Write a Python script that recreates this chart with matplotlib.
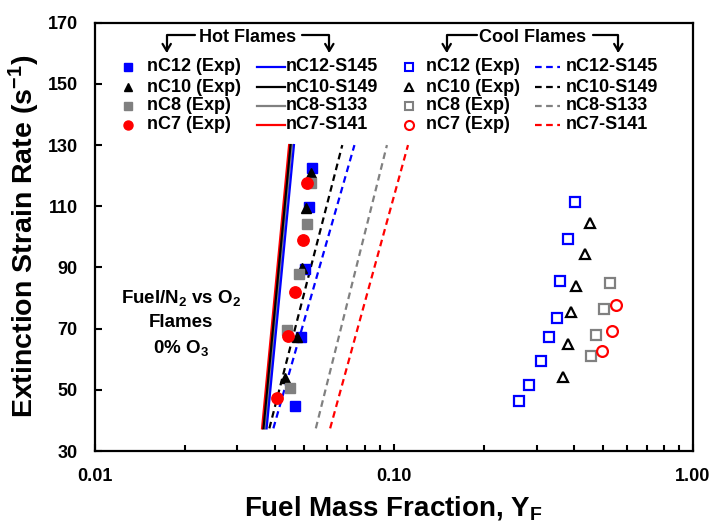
import matplotlib
matplotlib.use("Agg")
import matplotlib.pyplot as plt
from matplotlib.lines import Line2D
from matplotlib.ticker import FixedLocator, LogLocator, FixedFormatter, NullFormatter

plt.rcParams['font.family'] = ['Liberation Sans', 'DejaVu Sans']
plt.rcParams['font.weight'] = 'bold'
plt.rcParams['mathtext.fontset'] = 'custom'
plt.rcParams['mathtext.bf'] = 'Liberation Sans:bold'
plt.rcParams['mathtext.rm'] = 'Liberation Sans:bold'
plt.rcParams['mathtext.default'] = 'bf'

# ---------------- data ----------------
fuels = ["nC12", "nC10", "nC8", "nC7"]
mechanisms = ["S145", "S149", "S133", "S141"]
colors = ["#0000ff", "#000000", "#808080", "#ff0000"]
markers = ["s", "^", "s", "o"]

# hot-flame extinction measurements (fuel mass fraction, strain rate 1/s)
hot_nc12_y = [0.0535, 0.0520, 0.0504, 0.0488, 0.0468]
hot_nc12_a = [122.6, 109.6, 89.4, 67.4, 44.7]
hot_nc10_y = [0.0527, 0.0508, 0.0495, 0.0476, 0.0432]
hot_nc10_a = [121.0, 109.5, 89.9, 67.4, 53.8]
hot_nc8_y = [0.0531, 0.0512, 0.0481, 0.0440, 0.0449]
hot_nc8_a = [117.7, 104.3, 87.7, 69.5, 50.5]
hot_nc7_y = [0.0514, 0.0496, 0.0467, 0.0443, 0.0407]
hot_nc7_a = [117.7, 99.0, 81.9, 67.6, 47.2]

# cool-flame extinction measurements
cool_nc12_y = [0.402, 0.382, 0.360, 0.351, 0.330, 0.310, 0.284, 0.262]
cool_nc12_a = [111.4, 99.4, 85.7, 73.4, 67.3, 59.4, 51.6, 46.3]
cool_nc10_y = [0.454, 0.434, 0.408, 0.391, 0.383, 0.367]
cool_nc10_a = [104.4, 94.4, 83.9, 75.3, 65.0, 54.3]
cool_nc8_y = [0.526, 0.503, 0.473, 0.457]
cool_nc8_a = [84.8, 76.4, 67.9, 61.0]
cool_nc7_y = [0.555, 0.537, 0.498]
cool_nc7_a = [77.8, 69.3, 62.7]

# simulated extinction curves (end points)
sim_a = [37.4, 130.0]
hot_sim_nc12 = [0.0376, 0.0464]
hot_sim_nc10 = [0.0367, 0.0452]
hot_sim_nc8 = [0.0372, 0.0457]
hot_sim_nc7 = [0.0363, 0.0447]
cool_sim_nc12 = [0.0396, 0.0739]
cool_sim_nc10 = [0.0384, 0.0673]
cool_sim_nc8 = [0.0549, 0.0949]
cool_sim_nc7 = [0.0613, 0.1116]

x_ticks = [0.01, 0.1, 1.0]
x_tick_labels = ["0.01", "0.10", "1.00"]
y_ticks = [30, 50, 70, 90, 110, 130, 150, 170]

hot_exp = [(hot_nc12_y, hot_nc12_a), (hot_nc10_y, hot_nc10_a),
           (hot_nc8_y, hot_nc8_a), (hot_nc7_y, hot_nc7_a)]
cool_exp = [(cool_nc12_y, cool_nc12_a), (cool_nc10_y, cool_nc10_a),
            (cool_nc8_y, cool_nc8_a), (cool_nc7_y, cool_nc7_a)]
hot_sim = [hot_sim_nc12, hot_sim_nc10, hot_sim_nc8, hot_sim_nc7]
cool_sim = [cool_sim_nc12, cool_sim_nc10, cool_sim_nc8, cool_sim_nc7]

W, H = 713, 523
fig = plt.figure(figsize=(W / 100, H / 100), dpi=100)
ax = fig.add_axes([94.5 / W, 1 - 451 / H, (693 - 94.5) / W, (451 - 22.7) / H])

DASH = (0, (3, 2))

# simulated curves
for c, ys in zip(colors, cool_sim):
    ax.plot(ys, sim_a, color=c, lw=1.6, ls=DASH, zorder=2)
for i in [3, 2, 1, 0]:
    ax.plot(hot_sim[i], sim_a, color=colors[i], lw=1.6, zorder=2)

# measurements
for c, m, (ys, a) in zip(colors, markers, hot_exp):
    ms = 8.2 if m == "o" else 7.3
    ax.plot(ys, a, ls="none", marker=m, ms=ms, color=c, mec=c, zorder=3)
for c, m, (ys, a) in zip(colors, markers, cool_exp):
    ms = 7.8 if m == "o" else 7.4
    ax.plot(ys, a, ls="none", marker=m, ms=ms, mfc="white", mec=c, mew=1.6,
            zorder=3)

ax.set_xscale("log")
ax.set_xlim(0.01, 1.0)
ax.set_ylim(30, 170)
ax.xaxis.set_major_locator(FixedLocator(x_ticks))
ax.xaxis.set_major_formatter(FixedFormatter(x_tick_labels))
ax.xaxis.set_minor_locator(LogLocator(base=10, subs=range(2, 10)))
ax.xaxis.set_minor_formatter(NullFormatter())
ax.yaxis.set_major_locator(FixedLocator(y_ticks))
ax.tick_params(axis="both", which="major", direction="in", length=5, width=1.5,
               labelsize=13, pad=12, top=False, right=False)
ax.tick_params(axis="x", which="minor", direction="in", length=4, width=1.5,
               top=False)
for lbl in ax.get_xticklabels() + ax.get_yticklabels():
    lbl.set_fontweight("bold")
for s in ax.spines.values():
    s.set_linewidth(1.6)

ax.set_xlabel("Fuel Mass Fraction, Y$_F$", fontsize=20, fontweight="bold",
              labelpad=7)
ax.set_ylabel("Extinction Strain Rate (s$^{-1}$)", fontsize=20.5,
              fontweight="bold")
ax.yaxis.set_label_coords((42 - 94.5) / (693 - 94.5), 0.5)

ax.text((181 - 94.5) / (693 - 94.5), 1 - (323 - 22.7) / (451 - 22.7),
        "Fuel/N$_2$ vs O$_2$\nFlames\n0% O$_3$", transform=ax.transAxes,
        ha="center", va="center", fontsize=13.5, fontweight="bold",
        linespacing=1.5)


# key drawn in figure pixel units
def fx(px):
    return px / W


def fy(py):
    return 1 - py / H


rows = [66.7, 87.3, 105.5, 124.5]
FS = 13


def key_block(x_marker, x_label, x_line0, x_line1, x_label2, filled, ls):
    for i, (c, m, f, mech) in enumerate(zip(colors, markers, fuels, mechanisms)):
        y = rows[i]
        if filled:
            fig.add_artist(Line2D([fx(x_marker)], [fy(y)], marker=m,
                                  ms=6.5 if m == "o" else 6, color=c, mec=c,
                                  ls="none"))
        else:
            fig.add_artist(Line2D([fx(x_marker)], [fy(y)], marker=m,
                                  ms=6.5 if m == "o" else 5.8,
                                  mfc="white", mec=c, mew=1.5, ls="none"))
        fig.text(fx(x_label), fy(y), f"{f} (Exp)", fontsize=FS, fontweight="bold",
                 ha="left", va="center")
        fig.add_artist(Line2D([fx(x_line0), fx(x_line1)], [fy(y), fy(y)],
                              color=c, lw=1.6, ls=ls))
        fig.text(fx(x_label2), fy(y), f"{f}-{mech}", fontsize=FS,
                 fontweight="bold", ha="left", va="center")


key_block(128.3, 147, 256.7, 285, 286, True, "-")
key_block(409.3, 426, 535, 560, 566, False, DASH)


def header(text, xc, xl, xr, x_text_l, x_text_r):
    fig.text(fx(xc), fy(38), text, fontsize=FS, fontweight="bold",
             ha="center", va="center")
    for xs, xa in ((x_text_l, xl), (x_text_r, xr)):
        fig.add_artist(plt.Annotation(
            "", xy=(xa, H - 53), xytext=(xs, H - 35),
            xycoords="figure pixels", textcoords="figure pixels",
            arrowprops=dict(arrowstyle="->,head_length=0.5,head_width=0.3",
                            connectionstyle="angle,angleA=0,angleB=90,rad=0",
                            lw=1.6, color="black", shrinkA=0, shrinkB=0)))


header("Hot Flames", 247.5, 166.7, 329.3, 195, 301.7)
header("Cool Flames", 533, 446.7, 618.3, 476.7, 592.7)

fig.savefig("out.png", dpi=100)
